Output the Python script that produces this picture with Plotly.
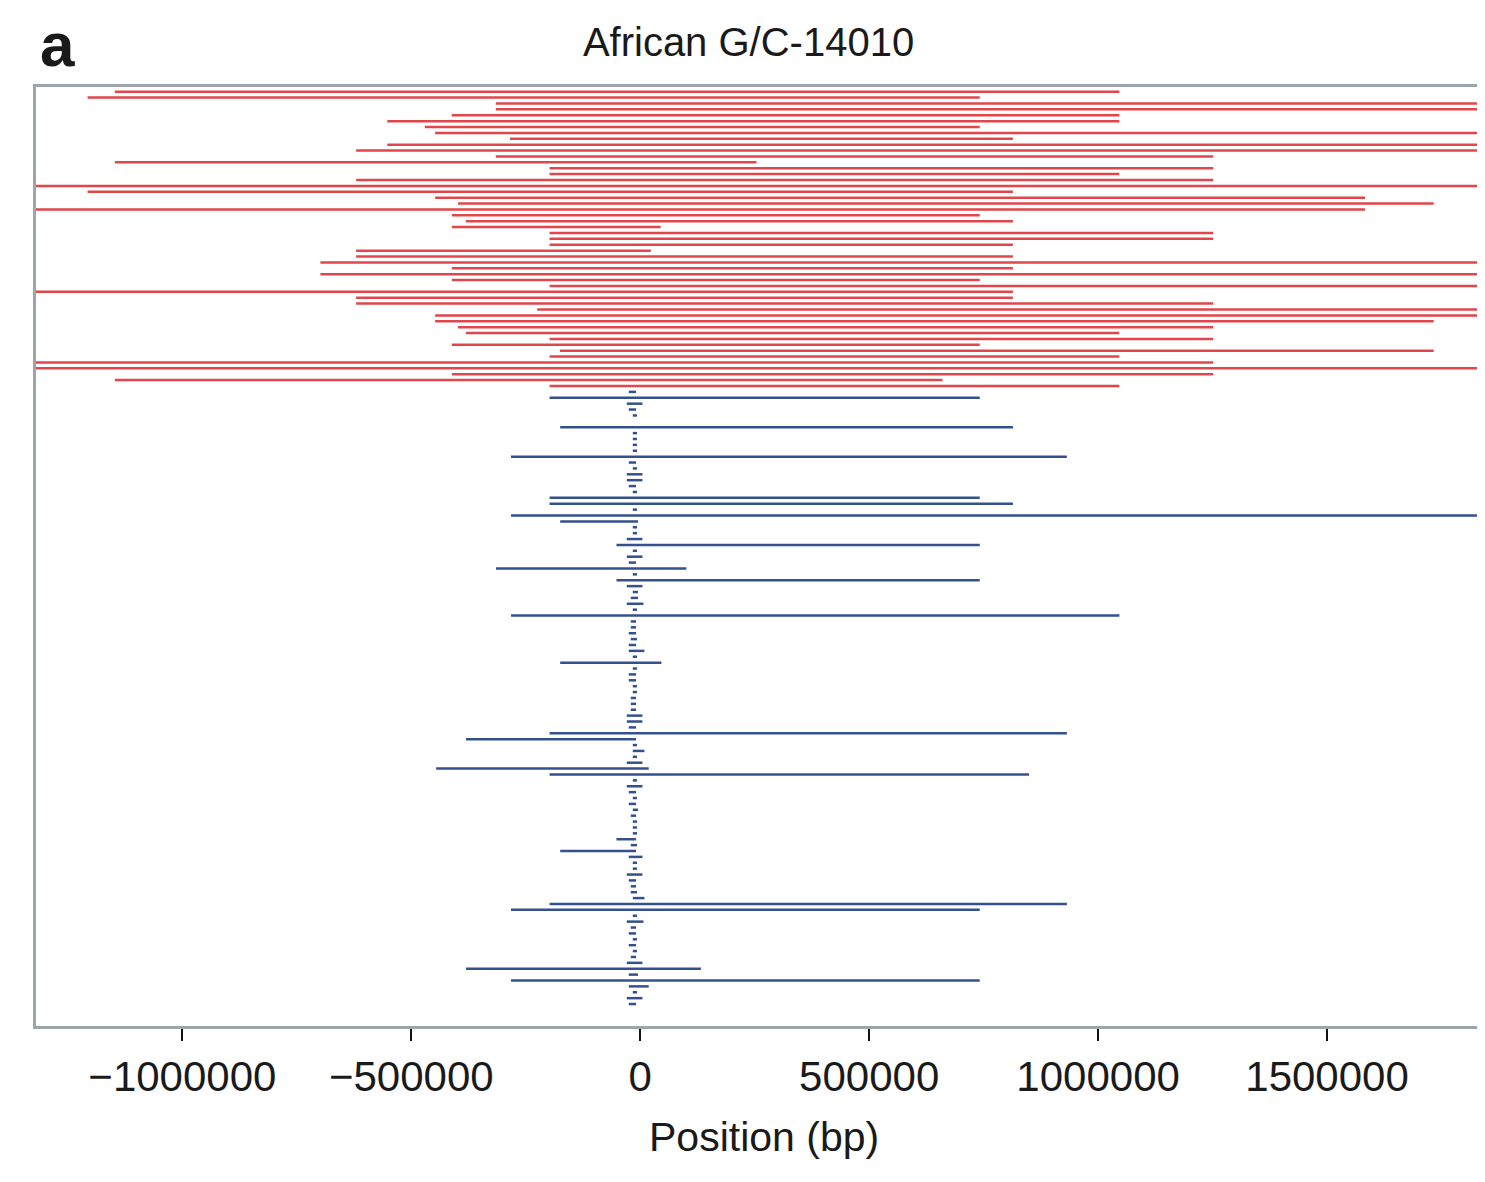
import plotly.graph_objects as go

# ---------------- data ----------------
EDGE_L = -1400000
EDGE_R = 1900000

# red haplotypes (top block), left / right ends in bp
red_left = [-1147500, -1207000, -315500, -315500, -411500, -552500, -470500, -448000,
            -284500, -552500, -620500, -315500, -1147500, -198000, -198000, -620500,
            EDGE_L, -1207000, -448000, -398000, EDGE_L, -411500, -380500, -411500,
            -198000, -198000, -198000, -620500, -620500, -698500, -411500, -698500,
            -411500, -198000, EDGE_L, -620500, -620500, -225000, -448000, -448000,
            -398000, -380500, -198000, -411500, -175500, -198000, EDGE_L, EDGE_L,
            -411500, -1147500, -198000]
red_right = [1046500, 741500, EDGE_R, EDGE_R, 1046500, 1046500, 741500, EDGE_R,
             814000, EDGE_R, EDGE_R, 1251500, 254000, 1251500, 1046500, 1251500,
             EDGE_R, 814000, 1583000, 1733000, 1583000, 741500, 814000, 44500,
             1251500, 1251500, 814000, 23000, 814000, EDGE_R, 814000, EDGE_R,
             741500, EDGE_R, 814000, 814000, 1251500, EDGE_R, EDGE_R, 1733000,
             1251500, 1046500, 1251500, 741500, 1733000, 1046500, 1251500, EDGE_R,
             1251500, 660000, 1046500]

# blue haplotypes (bottom block)
blue_left = [-25100, -198000, -29400, -25100, -16300, -12000, -174800, -16300,
             -16300, -16300, -16300, -282300, -25100, -16300, -29400, -29400,
             -25100, -16300, -198000, -198000, -16300, -282300, -174800, -16300,
             -16300, -29400, -51900, -16300, -29400, -25100, -315000, -16300,
             -51900, -29400, -16300, -20700, -29400, -16300, -282300, -20700,
             -20700, -25100, -20700, -25100, -25100, -16300, -174800, -16300,
             -25100, -25100, -16300, -16300, -20700, -20700, -20700, -29400,
             -29400, -25100, -198000, -380500, -16300, -16300, -16300, -29400,
             -445700, -198000, -16300, -29400, -25100, -16300, -25100, -16300,
             -20700, -16300, -16300, -16300, -51900, -20700, -174800, -25100,
             -16300, -16300, -29400, -25100, -20700, -20700, -16300, -198000,
             -282300, -16300, -29400, -20700, -25100, -16300, -25100, -16300,
             -20700, -29400, -380500, -25100, -282300, -25100, -16300, -29400,
             -25100]
blue_right = [-9150, 741500, 4800, -9150, -7000, -12000, 814000, -7000,
              -7000, -7000, -7000, 931800, -9150, -7000, 4800, 4800,
              -9150, -7000, 741500, 814000, -7000, EDGE_R, -4800, -7000,
              -7000, 4800, 741500, -7000, 4800, -9150, 100700, -7000,
              741500, 4800, -4800, -4800, 7000, -7000, 1046500, -9150,
              -9150, -9150, -7000, -9150, 9150, -7000, 46200, -7000,
              -9150, -9150, -7000, -7000, -9150, -9150, -9150, 4800,
              4800, -9150, 931800, -9150, -7000, 9150, -7000, 4800,
              18500, 849000, -7000, 4800, -9150, -7000, -9150, -4800,
              -9150, -7000, -7000, -7000, -9150, -7000, -9150, 4800,
              -7000, -7000, 4800, -9150, -9150, -7000, 9150, 931800,
              741500, -7000, 7000, -9150, -9150, -7000, -9150, -7000,
              -9150, 4800, 132500, -4800, 741500, 18500, -7000, 4800,
              -9150]

tick_vals = [-1000000, -500000, 0, 500000, 1000000, 1500000]
tick_text = ["\u22121000000", "\u2212500000", "0", "500000", "1000000", "1500000"]

title_text = "African G/C-14010"
x_title = "Position (bp)"
panel_label = "a"

RED = "#E2464A"
BLUE = "#34508E"
FRAME = "#9CA4AC"
INK = "#1a1a1a"
FONT = "Liberation Sans, Arial, Helvetica, sans-serif"

# figure sized so that, with the page's 8px body margin, it fills the 1485x1182 window
W, H = 1477, 1166
ML, MR, MT, MB = 28, 2, 79, 148
PLOT_W = W - ML - MR
PLOT_H = H - MT - MB


def segs(lefts, rights, offset):
    xs, ys = [], []
    for i, (l, r) in enumerate(zip(lefts, rights)):
        xs += [l, r, None]
        ys += [i + offset, i + offset, None]
    return xs, ys


rx, ry = segs(red_left, red_right, 0)
bx, by = segs(blue_left, blue_right, len(red_left))

fig = go.Figure()
fig.add_trace(go.Scatter(x=rx, y=ry, mode="lines", line=dict(color=RED, width=2.5),
                         hoverinfo="skip", showlegend=False))
fig.add_trace(go.Scatter(x=bx, y=by, mode="lines", line=dict(color=BLUE, width=2.5),
                         hoverinfo="skip", showlegend=False))

row_px = 5.886
y_top = -0.8
y_bot = y_top + PLOT_H / row_px

fig.update_layout(
    width=W, height=H,
    margin=dict(l=ML, r=MR, t=MT, b=MB),
    paper_bgcolor="white", plot_bgcolor="white",
    font=dict(family=FONT, color=INK),
    title=dict(text=title_text, x=(742 - ML) / PLOT_W, xref="paper", xanchor="center",
               y=1 - 34 / H, yref="container", yanchor="middle",
               font=dict(size=40, family=FONT, color=INK)),
    xaxis=dict(range=[-1319700, 1834100], showgrid=False, zeroline=False,
               showline=True, mirror=True, linecolor=FRAME, linewidth=3,
               ticks="outside", ticklen=12, tickwidth=2, tickcolor="#111111",
               tickvals=tick_vals, ticktext=tick_text,
               tickfont=dict(size=42, family=FONT, color=INK)),
    yaxis=dict(range=[y_bot, y_top], showgrid=False, zeroline=False,
               showline=True, mirror=True, linecolor=FRAME, linewidth=3,
               ticks="", showticklabels=False),
    annotations=[
        dict(text="<b>" + panel_label + "</b>", xref="paper", yref="paper",
             x=0, y=1 + MT / PLOT_H, xanchor="left", yanchor="top", xshift=2,
             showarrow=False, font=dict(size=62, family=FONT, color=INK)),
        dict(text=x_title, xref="paper", yref="paper",
             x=(758 - ML) / PLOT_W, y=-(1104 - (MT + PLOT_H)) / PLOT_H,
             xanchor="center", yanchor="top", showarrow=False,
             font=dict(size=41, family=FONT, color=INK)),
    ],
)

fig.write_html("out.html")
